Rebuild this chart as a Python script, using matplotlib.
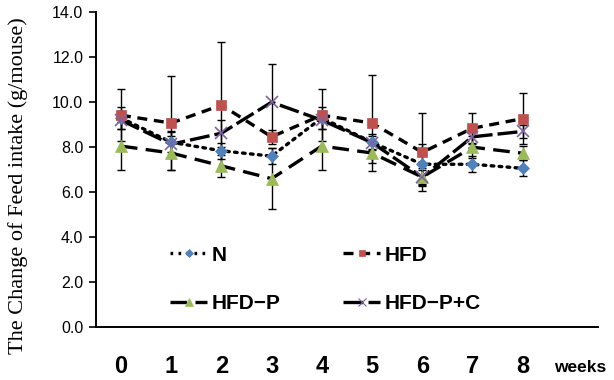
import numpy as np
from matplotlib import pyplot as plt
from matplotlib.lines import Line2D

weeks = [0, 1, 2, 3, 4, 5, 6, 7, 8]
week_labels = ['0', '1', '2', '3', '4', '5', '6', '7', '8']

n_vals = [9.3, 8.22, 7.84, 7.6, 9.3, 8.22, 7.24, 7.24, 7.06]
hfd_vals = [9.42, 9.07, 9.87, 8.46, 9.42, 9.07, 7.77, 8.84, 9.27]
hfdp_vals = [8.05, 7.74, 7.17, 6.6, 8.05, 7.74, 6.67, 8.0, 7.73]
hfdpc_vals = [9.2, 8.13, 8.62, 10.0, 9.2, 8.2, 6.67, 8.46, 8.7]

n_err = [0.5, 0.45, 0.35, 0.35, 0.5, 0.35, 0.9, 0.35, 0.35]
hfd_err = [1.16, 2.09, 2.8, 0.3, 1.16, 2.13, 1.73, 0.66, 1.13]
hfdp_err = [1.05, 0.75, 0.5, 1.36, 1.05, 0.45, 0.4, 0.5, 0.3]
hfdpc_err = [0.4, 0.6, 0.6, 1.69, 0.4, 0.3, 0.3, 0.3, 0.3]

y_ticks = [0, 2, 4, 6, 8, 10, 12, 14]

fig = plt.figure(figsize=(6.14, 3.8), dpi=100)
ax = fig.add_axes([0.156, 0.139, 0.818, 0.829])

sans = ['Liberation Sans', 'DejaVu Sans']

series = [
    ('N', n_vals, n_err, 'D', '#4F81BD', (0, (0.8, 1.6)), 6.5),
    ('HFD', hfd_vals, hfd_err, 's', '#C0504D', (0, (3, 2)), 6.5),
    ('HFD\u2212P', hfdp_vals, hfdp_err, '^', '#9BBB59', (0, (5, 2.5)), 8.5),
    ('HFD\u2212P+C', hfdpc_vals, hfdpc_err, 'x', '#8064A2', (0, (6, 1.5)), 8),
]

handles = []
for name, vals, err, mk, col, ls, ms in series:
    ax.errorbar(weeks, vals, yerr=err, fmt='none', ecolor='black',
                elinewidth=1.0, capsize=3, capthick=1.0, zorder=2)
for name, vals, err, mk, col, ls, ms in series:
    ax.plot(weeks, vals, color='black', linestyle=ls, linewidth=2.4,
            dash_capstyle='round' if name == 'N' else 'butt', zorder=3)
    ax.plot(weeks, vals, linestyle='none', marker=mk, color=col,
            markersize=ms, markeredgewidth=1.2 if mk == 'x' else 0.5,
            markeredgecolor=col, zorder=4)
    handles.append(Line2D([0], [0], color='black', linestyle=ls, linewidth=2.4,
                          marker=mk, markersize=ms, markerfacecolor=col,
                          markeredgecolor=col, markeredgewidth=0.8 if mk == 'x' else 0.5))

ax.set_xlim(-0.5, 9.5)
ax.set_ylim(0, 14)
ax.set_yticks(y_ticks)
ax.set_yticklabels(['%.1f' % v for v in y_ticks], family=sans, fontsize=11.5)
ax.set_xticks(weeks)
ax.set_xticklabels(week_labels, family=sans, fontsize=17, fontweight='bold')
ax.tick_params(axis='x', length=0, pad=20)
ax.tick_params(axis='y', direction='out', length=5, width=1.2, pad=4)

for side in ['top', 'right']:
    ax.spines[side].set_visible(False)
ax.spines['left'].set_linewidth(1.4)
ax.spines['bottom'].set_linewidth(1.4)

ax.set_ylabel('The Change of Feed intake (g/mouse)', family=['Liberation Serif', 'DejaVu Serif'],
              fontsize=16)
ax.yaxis.set_label_coords(-0.135, 0.45)
fig.text(0.902, 0.034, 'weeks', family=sans, fontsize=12.5, fontweight='bold',
         ha='left', va='center')

# legend fills column-wise: order so rows read N, HFD / HFD-P, HFD-P+C
order = [0, 2, 1, 3]
leg = ax.legend([handles[i] for i in order], [series[i][0] for i in order],
                ncol=2, loc='lower left', markerscale=0.7,
                bbox_to_anchor=(0.11, -0.014), frameon=False, handlelength=1.8,
                columnspacing=3.0, labelspacing=1.4, handletextpad=0.2,
                prop={'family': sans, 'size': 15, 'weight': 'bold'})

fig.savefig('out.png', dpi=100)
